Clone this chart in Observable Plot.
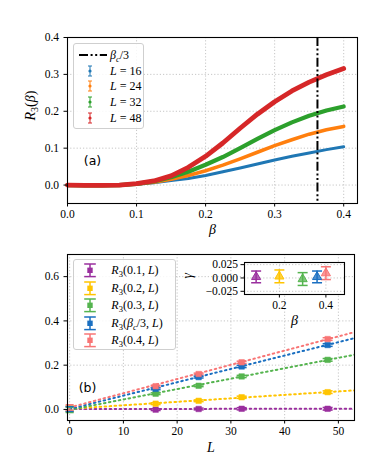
<!DOCTYPE html>
<html><head><meta charset="utf-8">
<script src="https://cdn.jsdelivr.net/npm/d3@7"></script>
<script src="https://cdn.jsdelivr.net/npm/@observablehq/plot@0.6"></script>
<style>
body{margin:0;background:#fff;}
#fig{position:relative;width:374px;height:467px;overflow:hidden;background:#fff;}
#fig > svg{display:block;}
.leg{position:absolute;background:rgba(255,255,255,0.85);border:1px solid #cfcfcf;border-radius:3px;box-sizing:border-box;font-family:"Liberation Serif",serif;color:#000;}
.row{position:absolute;left:0;height:14px;display:flex;align-items:center;white-space:nowrap;}
.row svg{position:absolute;}
.row span{position:absolute;font-size:12px;line-height:14px;}
sub{font-size:8.5px;vertical-align:-3px;line-height:0;}
</style></head><body><div id="fig"></div>
<script>
// ---------- Panel (a) data ----------
const beta = [0, 0.025, 0.05, 0.075, 0.1, 0.125, 0.15, 0.175, 0.2, 0.225, 0.25, 0.275, 0.3, 0.325, 0.35, 0.375, 0.4];
const r16 = [0, -0.001, -0.001, 0, 0.002, 0.006, 0.012, 0.018, 0.026, 0.036, 0.046, 0.057, 0.068, 0.078, 0.087, 0.096, 0.104];
const r24 = [0, -0.001, -0.001, 0, 0.003, 0.008, 0.016, 0.026, 0.039, 0.054, 0.071, 0.089, 0.107, 0.123, 0.138, 0.150, 0.159];
const r32 = [0, -0.001, -0.001, 0, 0.003, 0.010, 0.021, 0.036, 0.055, 0.076, 0.100, 0.125, 0.149, 0.170, 0.188, 0.202, 0.213];
const r48 = [0, -0.001, -0.001, 0, 0.004, 0.011, 0.025, 0.048, 0.078, 0.114, 0.154, 0.192, 0.226, 0.255, 0.279, 0.299, 0.316];
const topSizes = ["16", "24", "32", "48"];
const topColors = ["#1f77b4", "#ff7f0e", "#2ca02c", "#d62728"];
const betaC3 = 0.362;
const xTicksA = [0, 0.1, 0.2, 0.3, 0.4];
const yTicksA = [0, 0.1, 0.2, 0.3, 0.4];

// ---------- Panel (b) data ----------
const sizesL = [16, 24, 32, 48];
const seriesB = ["0.1", "0.2", "0.3", "βc/3", "0.4"];
const rB01 = [-0.001, 0.002, 0.003, 0.003];
const rB02 = [0.026, 0.039, 0.055, 0.078];
const rB03 = [0.071, 0.107, 0.149, 0.224];
const rBc  = [0.093, 0.146, 0.194, 0.291];
const rB04 = [0.105, 0.160, 0.213, 0.318];
const errB = [0.004, 0.004, 0.005, 0.006];
const gammaB = [0.002, 0.003, -0.002, 0.002, 0.009];
const gammaErr = [0.011, 0.012, 0.012, 0.011, 0.012];
const slopeB = [0.00002, 0.00157, 0.0047, 0.00604, 0.00642];
const fitRange = [0, 53];
const betaInset = [0.1, 0.2, 0.3, 0.362, 0.4];
const colorsB = ["#9a2f9e", "#ffc400", "#55b44f", "#1a6fc1", "#f87575"];
const xTicksB = [0, 10, 20, 30, 40, 50];
const yTicksB = [0, 0.2, 0.4, 0.6];
const yTicksIn = [-0.025, 0, 0.025];
const xTicksIn = [0.2, 0.4];

const serif = '"Liberation Serif", "Times New Roman", serif';
const sans = '"DejaVu Sans", sans-serif';
const grid = {stroke: "#b8b8b8", strokeOpacity: 1, strokeWidth: 0.8, strokeDasharray: "1.2,2"};
const capSym = {draw(ctx, size) { const w = Math.sqrt(size / Math.PI); ctx.moveTo(-w, 0); ctx.lineTo(w, 0); }};
const fig = document.getElementById("fig");

function rich(svg, map) {
  d3.select(svg).selectAll("text").each(function() {
    const t = this.textContent;
    if (map[t]) this.innerHTML = map[t];
  });
}

// ---------- Panel (a) ----------
const seriesA = [r16, r24, r32, r48];
const widthsA = [3, 3.6, 4.2, 4.8];
const plotA = Plot.plot({
  width: 374, height: 240,
  marginLeft: 67, marginRight: 17, marginTop: 37, marginBottom: 37,
  style: {fontFamily: serif, fontSize: "11.5px", color: "black", background: "white"},
  x: {domain: [0, 0.42]},
  y: {domain: [-0.05, 0.4]},
  marks: [
    Plot.gridX(xTicksA, grid),
    Plot.gridY(yTicksA, grid),
    ...seriesA.map((arr, i) => Plot.line(beta, {x: d => d, y: (d, j) => arr[j], stroke: topColors[i], strokeWidth: widthsA[i], strokeLinecap: "round"})),
    Plot.ruleX([betaC3], {stroke: "black", strokeWidth: 2, strokeDasharray: "9,2.6,2,2.6,2,2.6"}),
    Plot.frame({stroke: "black", strokeWidth: 1.1}),
    Plot.axisX({ticks: xTicksA, tickSize: 3.5, tickPadding: 3, tickFormat: d3.format(".1f"), label: null}),
    Plot.axisY({ticks: yTicksA, tickSize: 3.5, tickPadding: 5, tickFormat: d3.format(".1f"), label: null}),
    Plot.text(["β"], {text: d => d, frameAnchor: "bottom", dy: 30, fontSize: 14, fontStyle: "italic"}),
    Plot.text(["RA"], {text: d => d, frameAnchor: "left", dx: -37, rotate: -90, fontSize: 14}),
    Plot.text(["(a)"], {text: d => d, frameAnchor: "top-left", textAnchor: "middle", dx: 25, dy: 119, fontFamily: sans, fontSize: 12.5})
  ]
});
rich(plotA, {"RA": '<tspan font-style="italic">R</tspan><tspan dy="3" font-size="10">3</tspan><tspan dy="-3">(</tspan><tspan font-style="italic">β</tspan><tspan>)</tspan>'});
fig.appendChild(plotA);

// ---------- Panel (b) ----------
const seriesBvals = [rB01, rB02, rB03, rBc, rB04];
const pts = [];
seriesBvals.forEach((arr, i) => sizesL.forEach((L, j) => pts.push({L, v: arr[j], e: errB[j], c: colorsB[i]})));
const zeroPts = gammaB.map((g, i) => ({L: 0, v: g, e: gammaErr[i], c: colorsB[i]}));
const fits = [];
gammaB.forEach((g, i) => fitRange.forEach(L => fits.push({s: i, L, v: g + slopeB[i] * L, c: colorsB[i]})));

const plotB = Plot.plot({
  width: 374, height: 227,
  marginLeft: 67, marginRight: 20, marginTop: 14, marginBottom: 47,
  style: {fontFamily: serif, fontSize: "11.5px", color: "black", background: "white"},
  x: {domain: [-0.4, 53]},
  y: {domain: [-0.05, 0.7]},
  marks: [
    Plot.gridX(xTicksB, grid),
    Plot.gridY(yTicksB, grid),
    Plot.line(fits, {x: "L", y: "v", z: "s", stroke: "c", strokeWidth: 2, strokeDasharray: "1.6,3.4", clip: true}),
    Plot.ruleX(zeroPts, {x: "L", y1: d => d.v - d.e, y2: d => d.v + d.e, stroke: "c", strokeWidth: 1.5}),
    Plot.dot(zeroPts, {x: "L", y: d => d.v - d.e, symbol: capSym, r: 4, stroke: "c", strokeWidth: 1.5}),
    Plot.dot(zeroPts, {x: "L", y: d => d.v + d.e, symbol: capSym, r: 4, stroke: "c", strokeWidth: 1.5}),
    Plot.ruleX(pts, {x: "L", y1: d => d.v - d.e, y2: d => d.v + d.e, stroke: "c", strokeWidth: 1.5}),
    Plot.dot(pts, {x: "L", y: d => d.v - d.e, symbol: capSym, r: 5, stroke: "c", strokeWidth: 1.5}),
    Plot.dot(pts, {x: "L", y: d => d.v + d.e, symbol: capSym, r: 5, stroke: "c", strokeWidth: 1.5}),
    Plot.dot(pts, {x: "L", y: "v", symbol: "square", r: 3.1, fill: "c", stroke: "c", strokeWidth: 0.5}),
    Plot.frame({stroke: "black", strokeWidth: 1.1}),
    Plot.axisX({ticks: xTicksB, tickSize: 3.5, tickPadding: 3, tickFormat: d3.format("d"), label: null, fontFamily: serif}),
    Plot.axisY({ticks: yTicksB, tickSize: 3.5, tickPadding: 5, tickFormat: d3.format(".1f"), label: null}),
    Plot.text(["L"], {text: d => d, frameAnchor: "bottom", dy: 31, fontSize: 14, fontStyle: "italic"}),
    Plot.text(["(b)"], {text: d => d, frameAnchor: "top-left", textAnchor: "middle", dx: 20, dy: 128.5, fontFamily: sans, fontSize: 12.5})
  ]
});
fig.appendChild(plotB);

// ---------- Inset ----------
const inset = gammaB.map((g, i) => ({b: betaInset[i], g, e: gammaErr[i], c: colorsB[i]}));
const plotIn = Plot.plot({
  width: 158, height: 77,
  marginLeft: 50, marginRight: 8, marginTop: 5, marginBottom: 40,
  style: {fontFamily: serif, fontSize: "11.5px", color: "black", background: "transparent", overflow: "visible"},
  x: {domain: [0.05, 0.48]},
  y: {domain: [-0.031, 0.029]},
  marks: [
    Plot.frame({fill: "white", stroke: null}),
    Plot.gridX(xTicksIn, grid),
    Plot.gridY(yTicksIn, grid),
    Plot.ruleX(inset, {x: "b", y1: d => d.g - d.e, y2: d => d.g + d.e, stroke: "c", strokeWidth: 1.5}),
    Plot.dot(inset, {x: "b", y: d => d.g - d.e, symbol: capSym, r: 5, stroke: "c", strokeWidth: 1.5}),
    Plot.dot(inset, {x: "b", y: d => d.g + d.e, symbol: capSym, r: 5, stroke: "c", strokeWidth: 1.5}),
    Plot.dot(inset, {x: "b", y: "g", symbol: "triangle", r: 3.4, fill: "c", fillOpacity: 0.75, stroke: "c", strokeWidth: 1}),
    Plot.frame({stroke: "black", strokeWidth: 1.1}),
    Plot.axisX({ticks: xTicksIn, tickSize: 3.5, tickPadding: 3, tickFormat: d3.format(".1f"), label: null}),
    Plot.axisY({ticks: yTicksIn, tickSize: 3.5, tickPadding: 3, tickFormat: d => d3.format(".3f")(d).replace("-", "−"), label: null}),
    Plot.text(["β"], {text: d => d, frameAnchor: "bottom", dy: 30, fontSize: 14, fontStyle: "italic"}),
    Plot.text(["γ"], {text: d => d, frameAnchor: "left", dx: -57, rotate: -90, fontSize: 14, fontStyle: "italic"})
  ]
});
plotIn.style.position = "absolute";
plotIn.style.left = "194px";
plotIn.style.top = "257px";
fig.appendChild(plotIn);

// ---------- Legends ----------
function legend(box, rows) {
  const div = document.createElement("div");
  div.className = "leg";
  Object.assign(div.style, {left: box[0] + "px", top: box[1] + "px", width: box[2] + "px", height: box[3] + "px"});
  rows.forEach(r => {
    const row = document.createElement("div");
    row.className = "row";
    row.style.top = r.y + "px";
    row.appendChild(r.sample);
    const sp = document.createElement("span");
    sp.style.left = r.tx + "px";
    sp.innerHTML = r.html;
    row.appendChild(sp);
    div.appendChild(row);
  });
  fig.appendChild(div);
}
function sampleSvg(x, w, h, draw) {
  const s = d3.create("svg").attr("width", w).attr("height", h).style("left", x + "px").style("top", (7 - h / 2) + "px");
  draw(s, w, h);
  return s.node();
}
function errSample(color, half, capHalf, marker) {
  return sampleSvg(0, 40, 2 * half + 4, (s, w, h) => {
    const cx = 16, cy = h / 2;
    s.append("line").attr("x1", cx).attr("x2", cx).attr("y1", cy - half).attr("y2", cy + half).attr("stroke", color).attr("stroke-width", marker === "dot" ? 1 : 1.5);
    [cy - half, cy + half].forEach(y => s.append("line").attr("x1", cx - capHalf).attr("x2", cx + capHalf).attr("y1", y).attr("y2", y).attr("stroke", color).attr("stroke-width", marker === "dot" ? 1 : 1.5));
    if (marker === "dot") s.append("circle").attr("cx", cx).attr("cy", cy).attr("r", 1.6).attr("fill", color);
    else s.append("rect").attr("x", cx - 2.7).attr("y", cy - 2.7).attr("width", 5.4).attr("height", 5.4).attr("fill", color);
  });
}

// legend (a)
const rowsA = [{
  y: 3.6, tx: 36,
  sample: sampleSvg(4, 30, 6, (s) => s.append("line").attr("x1", 1).attr("x2", 29).attr("y1", 3).attr("y2", 3).attr("stroke", "black").attr("stroke-width", 2).attr("stroke-dasharray", "9,2.6,2,2.6,2,2.6")),
  html: '<i>β</i><sub><i>c</i></sub>/3'
}];
topSizes.forEach((L, i) => rowsA.push({
  y: 19.5 + i * 15.8, tx: 36,
  sample: (() => { const n = errSample(topColors[i], 5, 2, "dot"); n.style.left = "0px"; return n; })(),
  html: '<i>L</i> = ' + L
}));
legend([73, 43, 71, 85.5], rowsA);

// legend (b)
const rowsB = seriesB.map((b, i) => ({
  y: 3 + i * 17.5, tx: 37,
  sample: errSample(colorsB[i], 6.3, 5.8, "square"),
  html: '<i>R</i><sub>3</sub>(' + (b === "βc/3" ? '<i>β</i><sub><i>c</i></sub>/3' : b) + ', <i>L</i>)'
}));
legend([73.3, 259.3, 102.5, 90.7], rowsB);
</script>
</body></html>
